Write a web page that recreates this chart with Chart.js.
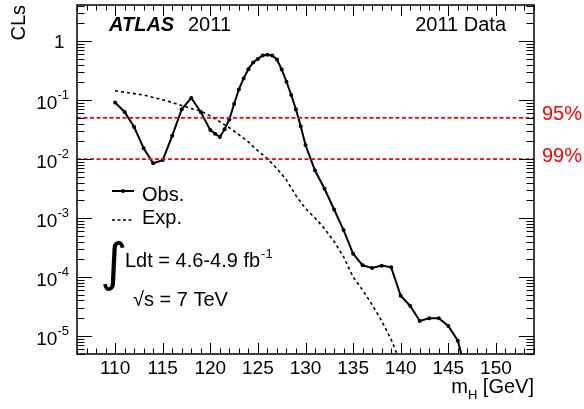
<!DOCTYPE html>
<html>
<head>
<meta charset="utf-8">
<script src="https://cdn.jsdelivr.net/npm/chart.js@4.4.1/dist/chart.umd.min.js"></script>
<style>
html,body{margin:0;padding:0;background:#fff;}
#wrap{width:584px;height:409px;}
</style>
</head>
<body>
<div id="wrap"><canvas id="c" width="584" height="409"></canvas></div>
<script>
// ---- data ----
const obsMass = [110,111,112,113,114,115,116,117,118,119,120,120.5,121,121.5,122,122.5,123,123.5,124,124.5,125,125.5,126,126.5,127,127.5,128,128.5,129,129.5,130,131,132,133,134,135,136,137,138,139,140,141,142,143,144,145,146,147];
const obsCLs = [0.091,0.063,0.035,0.0153,0.0085,0.0096,0.0248,0.070,0.109,0.063,0.031,0.027,0.0236,0.032,0.047,0.086,0.152,0.233,0.335,0.435,0.50,0.571,0.586,0.571,0.489,0.331,0.205,0.122,0.0695,0.036,0.0173,0.0064,0.00314,0.0014,0.000626,0.000248,0.000158,0.000142,0.000156,0.000146,0.0000482,0.0000323,0.000018,0.00002,0.00002,0.0000148,0.0000083,0.000002];
const expMass = [110,111,112,113,114,115,116,117,118,119,120,121,122,123,124,125,126,127,128,129,130,131,132,133,134,135,136,137,138,139,140];
const expCLs = [0.144,0.136,0.129,0.122,0.111,0.101,0.091,0.081,0.072,0.065,0.054,0.043,0.034,0.026,0.0195,0.0138,0.0102,0.0069,0.0044,0.0024,0.00145,0.0010,0.00066,0.00040,0.00022,0.00010,0.000060,0.000034,0.000018,0.0000087,0.0000035];
const clLevels = [0.05, 0.01];
const clLabels = ['95%', '99%'];
const xTickLabels = [110,115,120,125,130,135,140,145,150];
const yTickDecades = [0,-1,-2,-3,-4,-5];
const xMin = 106, xMax = 154, yMin = 4.95e-6, yMax = 4.1;

const FONT = '"Liberation Sans", Arial, sans-serif';

const pairs = (xs, ys) => xs.map((x, i) => ({x: x, y: ys[i]}));

const datasets = [];
clLevels.forEach((lv) => {
  datasets.push({
    data: [{x: xMin, y: lv}, {x: xMax, y: lv}],
    borderColor: '#ff0000', borderWidth: 1.6, borderDash: [4, 2.5],
    pointRadius: 0, fill: false, tension: 0
  });
});
datasets.push({
  data: pairs(expMass, expCLs),
  borderColor: '#000', borderWidth: 1.6, borderDash: [3, 3],
  pointRadius: 0, fill: false, tension: 0
});
datasets.push({
  data: pairs(obsMass, obsCLs),
  borderColor: '#000', borderWidth: 2, pointRadius: 2, pointBackgroundColor: '#000',
  pointBorderWidth: 0, fill: false, tension: 0
});

const decor = {
  id: 'decor',
  afterDraw(chart) {
    const ctx = chart.ctx;
    const xs = chart.scales.x, ys = chart.scales.y;
    const a = chart.chartArea;
    ctx.save();
    ctx.strokeStyle = '#000';
    ctx.fillStyle = '#000';
    // frame
    ctx.lineWidth = 1.5;
    ctx.strokeRect(a.left, a.top, a.right - a.left, a.bottom - a.top);
    // x ticks
    ctx.lineWidth = 1;
    for (let m = Math.ceil(xMin); m <= xMax; m++) {
      const px = Math.round(xs.getPixelForValue(m)) + 0.5;
      const len = (m % 5 === 0) ? 11 : 5.5;
      ctx.beginPath();
      ctx.moveTo(px, a.bottom); ctx.lineTo(px, a.bottom - len);
      ctx.moveTo(px, a.top); ctx.lineTo(px, a.top + len);
      ctx.stroke();
    }
    // y ticks
    for (let e = -6; e <= 0; e++) {
      for (let k = 1; k <= 9; k++) {
        const v = k * Math.pow(10, e);
        if (v < yMin || v > yMax) continue;
        const py = Math.round(ys.getPixelForValue(v)) + 0.5;
        const len = (k === 1) ? 15 : 7.5;
        ctx.beginPath();
        ctx.moveTo(a.left, py); ctx.lineTo(a.left + len, py);
        ctx.moveTo(a.right, py); ctx.lineTo(a.right - len, py);
        ctx.stroke();
      }
    }
    // x tick labels
    ctx.font = '19px ' + FONT;
    ctx.textAlign = 'center';
    ctx.textBaseline = 'alphabetic';
    xTickLabels.forEach((m) => {
      ctx.fillText(String(m), xs.getPixelForValue(m), 374);
    });
    // y tick labels
    yTickDecades.forEach((e) => {
      const py = ys.getPixelForValue(Math.pow(10, e));
      if (e === 0) {
        ctx.font = '19px ' + FONT;
        ctx.textAlign = 'right';
        ctx.fillText('1', 64.5, py + 7);
      } else {
        const sup = '-' + String(-e);
        ctx.font = '13px ' + FONT;
        const wSup = ctx.measureText(sup).width;
        ctx.textAlign = 'left';
        ctx.fillText(sup, 69 - wSup, py - 1);
        ctx.font = '19px ' + FONT;
        ctx.textAlign = 'right';
        ctx.fillText('10', 69 - wSup, py + 9);
      }
    });
    // axis titles
    ctx.save();
    ctx.translate(25, 5);
    ctx.rotate(-Math.PI / 2);
    ctx.font = '20px ' + FONT;
    ctx.textAlign = 'right';
    ctx.textBaseline = 'alphabetic';
    ctx.fillText('CLs', 0, 0);
    ctx.restore();
    // m_H [GeV]
    ctx.textAlign = 'left';
    ctx.font = '20px ' + FONT;
    const wM = ctx.measureText('m').width;
    const wG = ctx.measureText(' [GeV]').width;
    ctx.font = '13px ' + FONT;
    const wH = ctx.measureText('H').width;
    let sx = a.right - (wM + wH + wG);
    ctx.font = '20px ' + FONT;
    ctx.fillText('m', sx, 393);
    ctx.font = '13px ' + FONT;
    ctx.fillText('H', sx + wM, 399);
    ctx.font = '20px ' + FONT;
    ctx.fillText(' [GeV]', sx + wM + wH, 393);
    // ATLAS 2011
    ctx.font = 'italic bold 20px ' + FONT;
    ctx.fillText('ATLAS', 109, 31);
    ctx.font = '20px ' + FONT;
    ctx.fillText('2011', 188, 31);
    ctx.textAlign = 'right';
    ctx.fillText('2011 Data', 506, 31);
    // CL labels
    ctx.fillStyle = '#ff0000';
    ctx.textAlign = 'left';
    clLevels.forEach((lv, i) => {
      const py = ys.getPixelForValue(lv);
      ctx.fillText(clLabels[i], 542, py + 2.5);
    });
    ctx.fillStyle = '#000';
    // legend
    ctx.lineWidth = 2;
    ctx.setLineDash([]);
    ctx.beginPath(); ctx.moveTo(112, 191); ctx.lineTo(134, 191); ctx.stroke();
    ctx.beginPath(); ctx.arc(123, 191, 2, 0, Math.PI * 2); ctx.fill();
    ctx.lineWidth = 1.6;
    ctx.setLineDash([3, 2.5]);
    ctx.beginPath(); ctx.moveTo(112, 220); ctx.lineTo(134, 220); ctx.stroke();
    ctx.setLineDash([]);
    ctx.fillText('Obs.', 142, 200.5);
    ctx.fillText('Exp.', 142, 223.5);
    // integral
    ctx.font = '52px "DejaVu Sans", ' + FONT;
    ctx.fillText('\u222B', 100, 280);
    ctx.font = '20px ' + FONT;
    const t1 = 'Ldt = 4.6-4.9 fb';
    ctx.fillText(t1, 125, 267);
    const w1 = ctx.measureText(t1).width;
    ctx.font = '13px ' + FONT;
    ctx.fillText('-1', 125 + w1 + 1, 258);
    ctx.font = '20px ' + FONT;
    ctx.fillText('\u221As = 7 TeV', 133, 306);
    ctx.restore();
  }
};

new Chart(document.getElementById('c'), {
  type: 'line',
  data: { datasets: datasets },
  options: {
    responsive: false,
    animation: false,
    devicePixelRatio: 1,
    layout: { padding: { left: 77, right: 50, top: 5, bottom: 55 } },
    plugins: { legend: { display: false }, tooltip: { enabled: false } },
    scales: {
      x: { type: 'linear', min: xMin, max: xMax, display: false },
      y: { type: 'logarithmic', min: yMin, max: yMax, display: false }
    }
  },
  plugins: [decor]
});
</script>
</body>
</html>
